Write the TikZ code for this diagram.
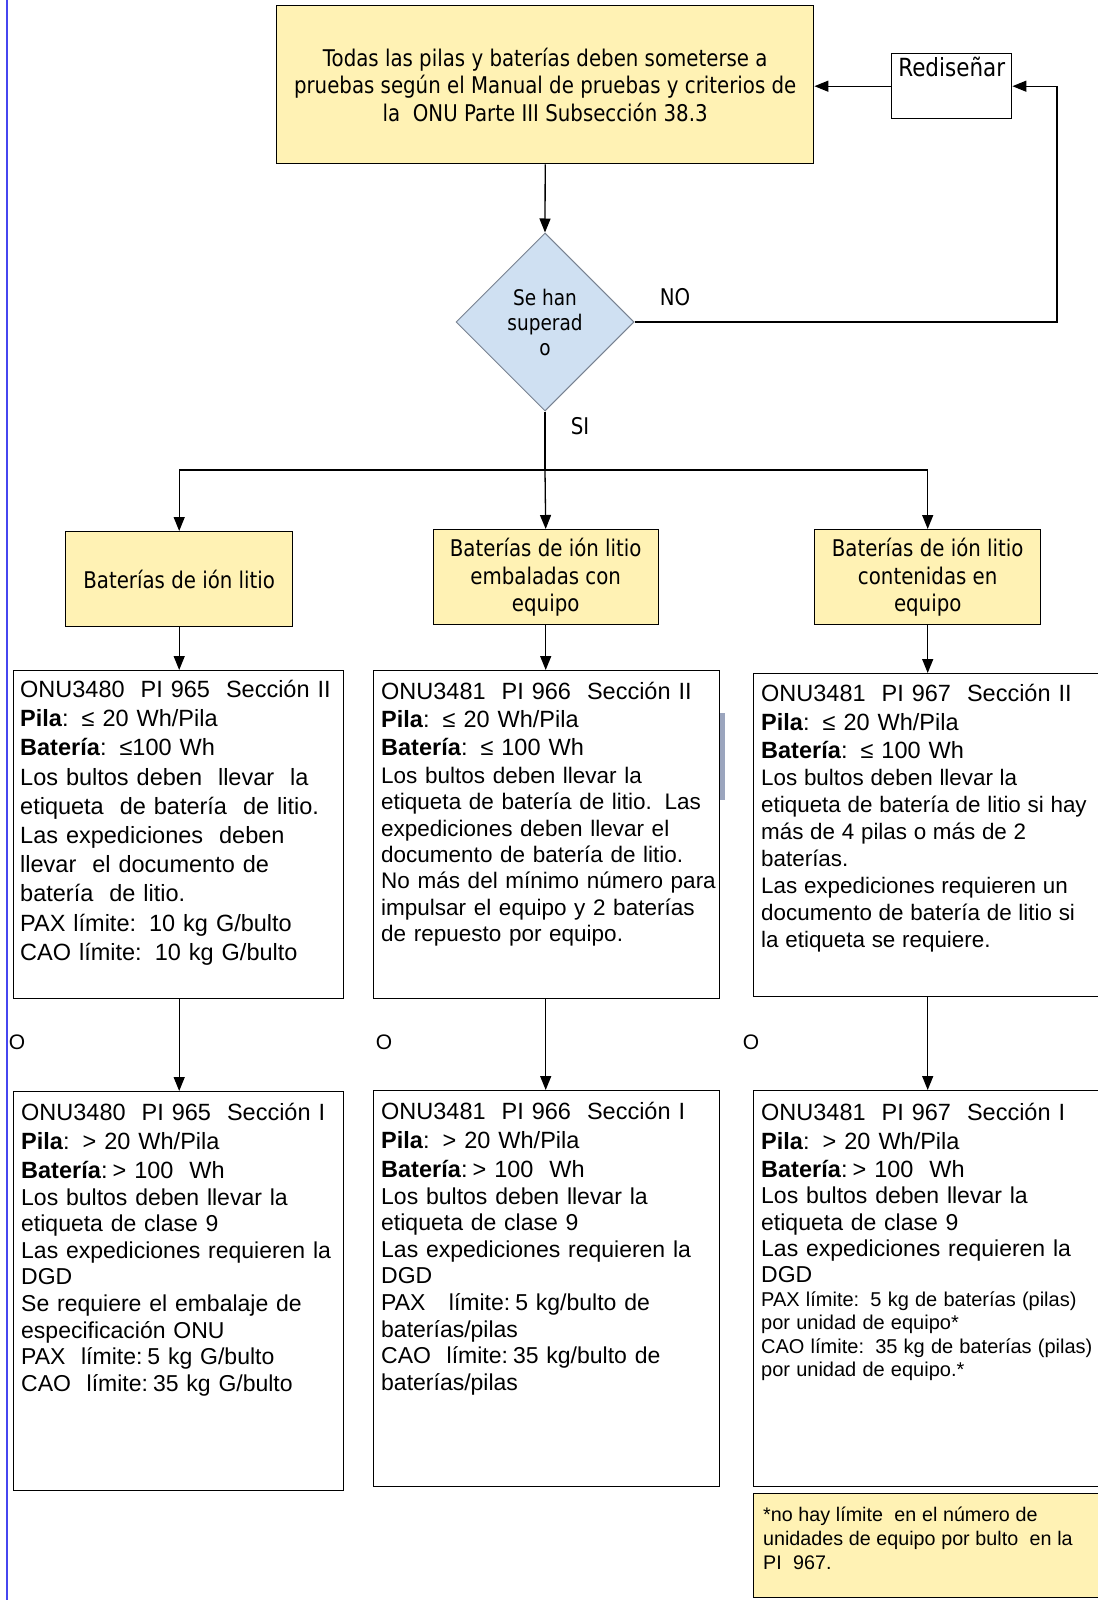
\documentclass[tikz,border=0pt]{standalone}
\usepackage{fontspec}
\setmainfont{Liberation Sans}
\newfontfamily\cond[FakeStretch=0.86]{DejaVu Sans}
\usetikzlibrary{arrows.meta,shapes.geometric}
\setlength{\parindent}{0pt}
\setlength{\parskip}{0pt}
\newcommand{\bfs}[2]{\fontsize{#1}{#2}\selectfont\spaceskip=0.34em\relax}
\definecolor{yel}{RGB}{255,242,180}
\definecolor{dblue}{RGB}{207,224,242}
\definecolor{dedge}{RGB}{120,130,145}
\definecolor{vline}{RGB}{70,70,240}
\definecolor{artif}{RGB}{155,165,190}
\begin{document}
\begin{tikzpicture}[x=1pt,y=-1pt,
  box/.style={draw=black, line width=1.4pt, fill=white, rectangle, inner sep=0pt, anchor=north west},
  ybox/.style={box, fill=yel},
  txt/.style={anchor=north west, inner sep=0pt, align=left, text width=420pt},
  arr/.style={-{Triangle[length=14pt,width=11pt]}, line width=1.3pt},
  conn/.style={line width=1.3pt},
  lbl/.style={inner sep=0pt, font=\cond\fontsize{23}{26}\selectfont},
  olbl/.style={inner sep=0pt, font=\fontsize{21}{24}\selectfont}
]
\fill[white] (0,0) rectangle (1097,1600);
\useasboundingbox (0,0) rectangle (1097,1600);
\draw[vline, line width=2pt] (6.5,0) -- (6.5,1600);

% top box
\node[ybox, minimum width=537pt, minimum height=158pt, align=center,
  font=\cond\fontsize{23}{27.5}\selectfont] (top) at (276,5)
  {Todas las pilas y baterías deben someterse a\\pruebas según el Manual de pruebas y criterios de\\la~ ONU Parte III Subsección 38.3};

% redesign
\node[box, minimum width=120pt, minimum height=65pt] (redis) at (891,53) {};
\node[anchor=north, inner sep=0pt, font=\cond\fontsize{25}{28}\selectfont] (redist) at ([yshift=-4pt]redis.north) {Rediseñar};

% diamond
\node[diamond, draw=dedge, line width=1pt, fill=dblue, minimum width=178pt, minimum height=178pt,
  inner sep=0pt, aspect=1, align=center, font=\cond\fontsize{21.5}{25}\selectfont] (dia) at (545,322)
  {Se han\\superad\\o};
\node[lbl] (no) at (675,297) {NO};
\node[lbl] (si) at (580,426) {SI};

% category boxes
\node[ybox, minimum width=227pt, minimum height=95pt, align=center,
  font=\cond\fontsize{23}{27.5}\selectfont] (cat1) at (65,531) {Baterías de ión litio};
\node[ybox, minimum width=225pt, minimum height=95pt, align=center,
  font=\cond\fontsize{23}{27.5}\selectfont] (cat2) at (432.5,529) {Baterías de ión litio\\embaladas con\\equipo};
\node[ybox, minimum width=226pt, minimum height=95pt, align=center,
  font=\cond\fontsize{23}{27.5}\selectfont] (cat3) at (814,529) {Baterías de ión litio\\contenidas en\\equipo};

% section II boxes
\node[box, minimum width=330pt, minimum height=328pt] (s2a) at (13,670) {};
\node[box, minimum width=346pt, minimum height=328pt] (s2b) at (373,670) {};
\node[box, minimum width=360pt, minimum height=323pt] (s2c) at (753,673) {};
\fill[artif] (720,713) rectangle (725,800);

\node[txt] (s2at) at ([xshift=7pt,yshift=-10pt]s2a.north west)
{\bfs{23.5}{29.2}%
ONU3480~ PI 965~ Sección II\\
\textbf{Pila}:~ ≤ 20 Wh/Pila\\
\textbf{Batería}:~ ≤100 Wh\\
Los bultos deben~ llevar~ la\\
etiqueta~ de batería~ de litio.\\
Las expediciones~ deben\\
llevar~ el documento de\\
batería~ de litio.\\
PAX límite:~ 10 kg G/bulto\\
CAO límite:~ 10 kg G/bulto\par};

\node[txt] (s2bt) at ([xshift=8pt,yshift=-12pt]s2b.north west)
{{\bfs{23.5}{28}%
ONU3481~ PI 966~ Sección II\\
\textbf{Pila}:~ ≤ 20 Wh/Pila\\
\textbf{Batería}:~ ≤ 100 Wh\par}
{\bfs{22.5}{28}%
Los bultos deben llevar la\par}
{\bfs{22.5}{26.3}%
etiqueta de batería de litio.~ Las\\
expediciones deben llevar el\\
documento de batería de litio.\\
No más del mínimo número para\\
impulsar el equipo y 2 baterías\\
de repuesto por equipo.\par}};

\node[txt] (s2ct) at ([xshift=8pt,yshift=-11pt]s2c.north west)
{{\bfs{23.5}{28.5}%
ONU3481~ PI 967~ Sección II\\
\textbf{Pila}:~ ≤ 20 Wh/Pila\\
\textbf{Batería}:~ ≤ 100 Wh\par}
{\bfs{22.4}{27}\spaceskip=0.3em\relax
Los bultos deben llevar la\\
etiqueta de batería de litio si hay\\
más de 4 pilas o más de 2\\
baterías.\\
Las expediciones requieren un\\
documento de batería de litio si\\
la etiqueta se requiere.\par}};

% section I boxes
\node[box, minimum width=330pt, minimum height=399pt] (s1a) at (13,1091) {};
\node[box, minimum width=346pt, minimum height=396pt] (s1b) at (373,1090) {};
\node[box, minimum width=360pt, minimum height=396pt] (s1c) at (753,1090) {};

\node[txt] (s1at) at ([xshift=8pt,yshift=-12pt]s1a.north west)
{{\bfs{23.5}{29}%
ONU3480~ PI 965~ Sección I\\
\textbf{Pila}:~ > 20 Wh/Pila\\
\textbf{Batería}: > 100~ Wh\par}
{\bfs{23}{26.6}%
Los bultos deben llevar la\\
etiqueta de clase 9\\
Las expediciones requieren la\\
DGD\\
Se requiere el embalaje de\\
especificación ONU\\
PAX~ límite: 5 kg G/bulto\\
CAO~ límite: 35 kg G/bulto\par}};

\node[txt] (s1bt) at ([xshift=8pt,yshift=-12pt]s1b.north west)
{{\bfs{23.5}{29}%
ONU3481~ PI 966~ Sección I\\
\textbf{Pila}:~ > 20 Wh/Pila\\
\textbf{Batería}: > 100~ Wh\par}
{\bfs{23}{26.6}%
Los bultos deben llevar la\\
etiqueta de clase 9\\
Las expediciones requieren la\\
DGD\\
PAX~~ límite: 5 kg/bulto de\\
baterías/pilas\\
CAO~ límite: 35 kg/bulto de\\
baterías/pilas\par}};

\node[txt] (s1ct) at ([xshift=8pt,yshift=-13pt]s1c.north west)
{{\bfs{23.5}{28.5}%
ONU3481~ PI 967~ Sección I\\
\textbf{Pila}:~ > 20 Wh/Pila\\
\textbf{Batería}: > 100~ Wh\par}
{\bfs{23}{26.3}%
Los bultos deben llevar la\\
etiqueta de clase 9\\
Las expediciones requieren la\\
DGD\par}
{\bfs{20}{23.5}\spaceskip=0.31em\relax
PAX límite:~ 5 kg de baterías (pilas)\\
por unidad de equipo*\\
CAO límite:~ 35 kg de baterías (pilas)\\
por unidad de equipo.*\par}};

% footnote
\node[ybox, minimum width=360pt, minimum height=104pt] (foot) at (753,1493) {};
\node[txt] (foott) at ([xshift=10pt,yshift=-14pt]foot.north west)
{\bfs{19.7}{24}\spaceskip=0.29em\relax
*no hay límite~ en el número de\\
unidades de equipo por bulto~ en la\\
PI~ 967.\par};

% O labels
\node[olbl] (o1) at (17,1042) {O};
\node[olbl] (o2) at (384,1042) {O};
\node[olbl] (o3) at (751,1042) {O};

% connectors
\draw[arr] (top.south) -- (dia.north);
\coordinate (loop) at (1057,322);
\draw[arr] (dia.east) -- (loop) |- (redis.east);
\draw[arr] (redis.west) -- (redis.west -| top.east);
\coordinate (jn) at (545,470);
\draw[conn] (dia.south) -- (jn);
\draw[arr] (jn) -| (cat1.north);
\draw[arr] (jn) -| (cat3.north);
\draw[arr] (jn) -- (cat2.north);
\draw[arr] (cat1.south) -- (cat1.south |- s2a.north);
\draw[arr] (cat2.south) -- (cat2.south |- s2b.north);
\draw[arr] (cat3.south) -- (cat3.south |- s2c.north);
\draw[arr] (cat1.south |- s2a.south) -- (cat1.south |- s1a.north);
\draw[arr] (cat2.south |- s2b.south) -- (cat2.south |- s1b.north);
\draw[arr] (cat3.south |- s2c.south) -- (cat3.south |- s1c.north);
\end{tikzpicture}
\end{document}
